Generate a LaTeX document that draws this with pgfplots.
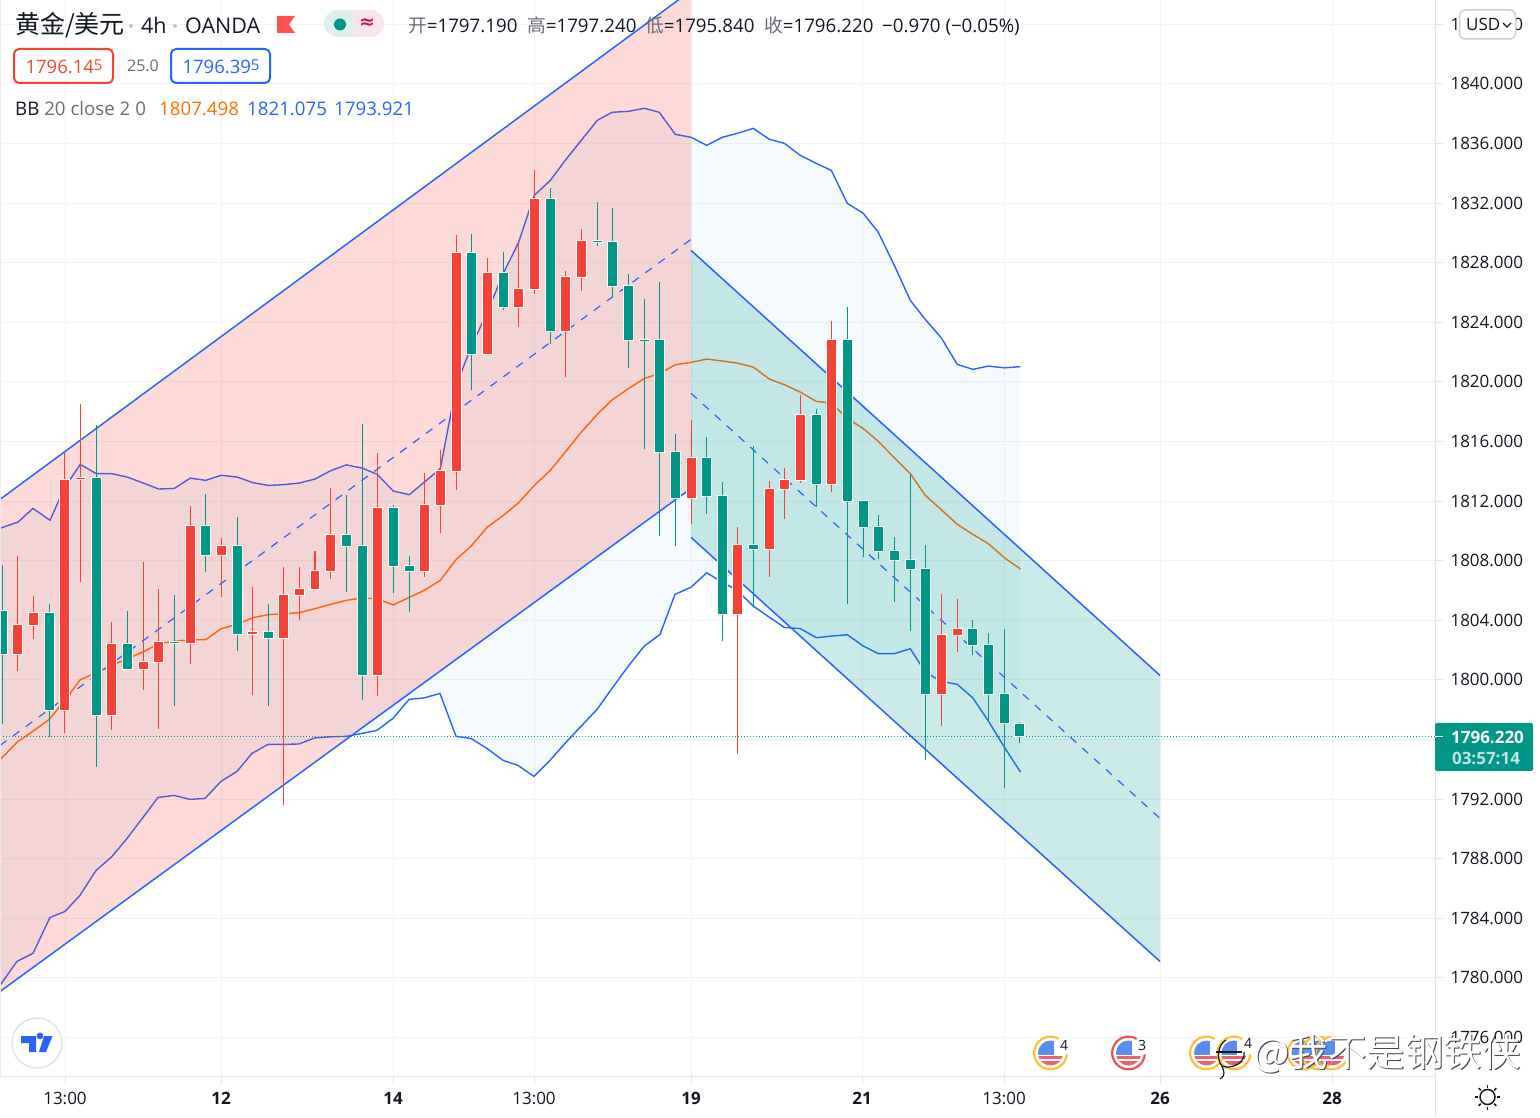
\documentclass[border=0pt]{standalone}
\usepackage{fontspec}
\usepackage{pgfplots}
\usepackage{pgfplotstable}
\pgfplotsset{compat=1.18}
\usetikzlibrary{calc}
\setmainfont{Open Sans}
\newfontfamily\cjk{Noto Sans CJK SC}
\newfontfamily\djv{DejaVu Sans}
\definecolor{up}{HTML}{F44336}
\definecolor{down}{HTML}{009688}
\definecolor{chan}{HTML}{2962FF}
\definecolor{bbblue}{HTML}{2962FF}
\definecolor{bandc}{HTML}{2196F3}
\definecolor{bborange}{HTML}{FF6D00}
\definecolor{gridc}{HTML}{F0F3FA}
\definecolor{axisc}{HTML}{E0E3EB}
\definecolor{inkc}{HTML}{131722}
\definecolor{grayc}{HTML}{6A6D78}
\definecolor{ringy}{HTML}{FFC233}
\definecolor{ringr}{HTML}{EF5350}
\definecolor{flagb}{HTML}{5B8DEF}
\definecolor{flagr}{HTML}{F0606A}
\definecolor{flagc}{HTML}{FF5252}
\definecolor{pillg}{HTML}{DDF0EC}
\definecolor{pillp}{HTML}{FCE4EC}
\definecolor{pillm}{HTML}{C2185B}

% x (chart position) high  body-top  body-bottom  low
\pgfplotstableread{
x high top bot low
17.5 1808.29 1803.68 1801.76 1800.60
33.3 1805.60 1804.48 1803.71 1802.72
64.7 1815.25 1813.41 1797.95 1796.43
80.3 1818.54 1813.54 1813.46 1806.56
111.7 1803.86 1802.40 1797.62 1796.61
143.3 1807.89 1801.20 1800.75 1799.29
158.7 1806.07 1802.54 1801.20 1796.68
190.3 1811.64 1810.32 1802.50 1801.09
221.3 1809.50 1808.98 1808.40 1805.54
252.7 1806.21 1803.21 1803.10 1798.96
283.3 1807.55 1805.69 1802.84 1791.58
299.3 1807.55 1806.09 1805.72 1803.99
315.0 1808.62 1807.30 1806.12 1806.12
330.7 1812.85 1809.72 1807.33 1806.75
377.3 1815.25 1811.53 1800.35 1798.89
424.3 1813.91 1811.76 1807.33 1806.90
440.3 1815.40 1814.01 1811.76 1809.85
456.3 1829.83 1828.64 1814.04 1812.72
487.3 1828.29 1827.30 1821.89 1821.78
518.3 1829.27 1826.23 1825.05 1823.68
534.3 1834.19 1832.27 1826.25 1825.87
565.3 1827.42 1827.03 1823.44 1820.30
581.3 1830.28 1829.45 1827.06 1826.07
691.3 1817.42 1814.89 1812.23 1810.44
737.3 1810.28 1809.05 1804.40 1795.02
769.3 1813.37 1812.81 1808.81 1806.90
784.3 1814.24 1813.41 1812.83 1810.77
800.3 1819.14 1817.77 1813.44 1813.21
831.3 1824.06 1822.79 1813.17 1812.59
941.3 1805.79 1803.01 1799.03 1796.90
957.3 1805.40 1803.41 1803.03 1801.85
}\bulltable
\pgfplotstableread{
x high top bot low
2.5 1807.69 1804.62 1801.76 1797.01
49.3 1805.07 1804.48 1797.95 1796.16
96.3 1817.08 1813.54 1797.62 1794.15
127.3 1804.60 1802.40 1800.75 1800.75
174.3 1805.67 1802.54 1802.50 1798.22
205.7 1812.45 1810.32 1808.40 1807.21
237.3 1810.91 1808.98 1803.10 1801.93
268.3 1805.07 1803.21 1802.84 1798.22
346.3 1812.38 1809.72 1809.01 1805.87
362.3 1817.19 1808.99 1800.35 1798.62
393.3 1811.71 1811.53 1807.67 1805.80
409.3 1808.29 1807.67 1807.33 1804.53
471.3 1829.90 1828.64 1821.89 1819.43
503.3 1828.69 1827.30 1825.05 1824.80
550.3 1833.03 1832.27 1823.44 1822.52
597.3 1832.05 1829.48 1829.38 1829.09
612.3 1831.64 1829.38 1826.46 1825.74
628.3 1827.26 1826.43 1822.83 1820.91
644.3 1825.54 1822.83 1822.80 1815.49
659.3 1826.73 1822.80 1815.32 1809.63
675.3 1816.52 1815.29 1812.23 1808.96
706.7 1816.28 1814.89 1812.36 1811.13
722.3 1813.30 1812.34 1804.40 1802.60
753.3 1815.67 1809.05 1808.81 1804.93
816.3 1818.15 1817.77 1813.17 1811.60
847.3 1825.00 1822.79 1812.03 1805.09
863.3 1812.03 1812.03 1810.28 1808.24
878.3 1811.04 1810.25 1808.67 1808.09
894.3 1809.56 1808.67 1808.07 1805.22
910.3 1813.79 1808.04 1807.46 1803.25
925.3 1809.03 1807.46 1799.03 1794.60
972.3 1803.99 1803.41 1802.36 1801.65
988.3 1803.12 1802.34 1799.07 1797.17
1004.3 1803.44 1799.05 1797.13 1792.74
1019.3 1797.18 1797.07 1796.22 1795.79
}\beartable
\pgfplotstableread{
x y
0 1810.17
18 1810.59
33 1811.51
50 1810.71
64.7 1812.92
80.3 1814.46
96.3 1813.84
111.7 1813.84
127.3 1813.61
143.3 1813.21
158.7 1812.81
174.3 1812.85
190.3 1813.54
205.7 1813.39
221.3 1813.73
237.3 1813.61
252.7 1813.24
268.3 1813.05
283.3 1813.10
299.3 1813.21
315 1813.48
330.7 1814.04
346.3 1814.43
362.3 1814.21
377.3 1813.79
393.3 1812.67
409.3 1812.43
424.3 1813.27
440.3 1814.17
456.3 1819.77
471.3 1822.38
487.3 1824.68
503.3 1827.28
518.3 1829.31
534.3 1832.52
550.3 1833.52
565.3 1834.87
581.3 1836.21
597.3 1837.55
612.3 1838.09
628.3 1838.15
644.3 1838.36
659.3 1838.09
675.3 1836.61
691.3 1836.41
706.7 1835.87
722.3 1836.41
737.3 1836.68
753.3 1837.01
769.3 1836.28
784.3 1836.01
800.3 1835.20
816.3 1834.66
831.3 1834.19
847.3 1831.98
863.3 1831.31
878.3 1830.03
894.3 1827.82
910.3 1825.47
925.3 1824.19
941.3 1822.95
957.3 1821.17
973 1820.84
988.3 1821.06
1004.3 1820.94
1020.5 1821.02
}\bbupper
\pgfplotstableread{
x y
0 1779.50
17 1781.11
33 1781.65
50 1784.06
65 1784.46
80 1785.54
96 1787.21
112 1788.15
127 1789.36
143 1790.77
158 1792.11
174 1792.25
190 1791.98
205 1792.05
221 1793.19
237 1793.86
252 1795.07
268 1795.67
283 1795.67
299 1795.70
315 1796.11
330 1796.18
346 1796.21
362 1796.41
377 1796.61
393 1797.42
409 1798.69
424 1798.79
440 1799.09
456 1796.21
471 1796.07
487 1795.40
503 1794.60
518 1794.26
534 1793.52
550 1794.60
565 1795.74
581 1796.88
597 1798.02
612 1799.43
628 1800.90
644 1802.25
660 1803.05
675 1805.74
691.3 1806.23
706.7 1807.19
722.3 1806.56
737.3 1806.00
753.3 1804.95
769.3 1804.21
784.3 1803.52
800.3 1803.44
816.3 1802.83
831.3 1802.94
847.3 1803.03
863.3 1802.27
878.3 1801.76
894.3 1801.76
910.3 1802.09
925.3 1800.52
941.3 1799.90
957.3 1799.70
973 1798.78
988.3 1797.24
1004.3 1795.49
1020.5 1793.81
}\bblower
\pgfplotstableread{
x y
0 1794.64
17.3 1795.83
33 1796.56
49 1797.33
64.7 1798.62
80.3 1800.01
96.3 1800.48
111.7 1800.97
127.3 1801.42
143 1801.87
158.7 1802.43
174.3 1802.59
190.3 1802.70
205.7 1802.70
221.3 1803.44
237.3 1803.73
252.7 1804.17
268.3 1804.38
283.3 1804.44
299.3 1804.51
315 1804.78
330.7 1805.07
346.3 1805.34
362.3 1805.50
377.3 1805.44
393.3 1805.03
409.3 1805.54
424.3 1806.01
440.3 1806.68
456.3 1808.09
471.3 1808.99
487.3 1810.25
503.3 1811.04
518.3 1811.87
534.3 1813.05
550.3 1814.06
565.3 1815.29
581.3 1816.63
597.3 1817.82
612.3 1818.80
628.3 1819.54
644.3 1820.23
659.3 1820.55
675.3 1821.15
691.3 1821.31
706.7 1821.53
722.3 1821.40
737.3 1821.26
753.3 1820.99
769.3 1820.19
784.3 1819.81
800.3 1819.31
816.3 1818.69
831.3 1818.58
847.3 1817.55
863.3 1816.86
878.3 1816.01
894.3 1814.91
910.3 1813.84
925.3 1812.38
941.3 1811.42
957.3 1810.44
973 1809.76
988.3 1809.14
1004.3 1808.20
1020.5 1807.44
}\bbbasis
% band outline: upper edge left to right, then lower edge right to left
\pgfplotstablesort[sort key=x, sort cmp=float >]{\bblowerrev}{\bblower}
\pgfplotstablevertcat{\bbband}{\bbupper}
\pgfplotstablevertcat{\bbband}{\bblowerrev}

\newcommand\candleseries[2]{%
  \addplot[draw=none, mark=none, forget plot, error bars/.cd, y dir=plus, y explicit, error mark=none,
    error bar style={draw=#2, line width=1.2pt}]
    table[x=x, y=low, y error plus expr=\thisrow{high}-\thisrow{low}] {#1};
  \addplot[draw=none, mark=none, forget plot, error bars/.cd, y dir=plus, y explicit, error mark=none,
    error bar style={draw=white, line width=10.6pt}]
    table[x=x, y expr=\thisrow{bot}-0.07, y error plus expr=\thisrow{top}-\thisrow{bot}+0.14] {#1};
  \addplot[draw=none, mark=none, forget plot, error bars/.cd, y dir=plus, y explicit, error mark=none,
    error bar style={draw=#2, line width=8.6pt}]
    table[x=x, y=bot, y error plus expr=\thisrow{top}-\thisrow{bot}] {#1};
}
\newcommand\earn[3]{% x, ring colour, y
  \begin{scope}
    \clip (#1,#3) circle (12.5);
    \fill[white] (#1-13,#3-13) rectangle (#1+13,#3+13);
    \fill[flagr] (#1-13,#3+3) rectangle (#1+13,#3+13);
    \fill[white] (#1-13,#3+6) rectangle (#1+13,#3+8);
    \fill[flagb] (#1-13,#3-13) rectangle (#1+3,#3+2);
  \end{scope}
  \draw[#2, line width=2.2pt] plot[samples=45, domain=5:300] ({#1+16.3*cos(\x)},{#3+16.3*sin(\x)});
}

\begin{document}
\begin{tikzpicture}
\path[use as bounding box] (0pt,-41pt) rectangle (1540pt,1076pt);
\begin{axis}[
  at={(0pt,0pt)}, anchor=south west,
  scale only axis, width=1435pt, height=1076pt,
  xmin=0, xmax=1435, ymin=1773.42, ymax=1845.63,
  axis x line*=bottom, axis y line*=right,
  axis line style={draw=axisc, line width=1pt, -},
  tick align=outside, major tick length=8pt,
  tick style={draw=axisc, line width=1pt},
  xtick={65,221,393,534,691,862,1004,1160,1332},
  xticklabels={13:00,\textbf{12},\textbf{14},13:00,\textbf{19},\textbf{21},13:00,\textbf{26},\textbf{28}},
  ytick={1776,1780,...,1844},
  grid=major, grid style={draw=gridc, line width=1pt},
  yticklabel pos=right,
  ticklabel style={font=\fontsize{17}{17}\selectfont, text=inkc},
  xticklabel style={yshift=-5pt},
  yticklabel style={xshift=4pt, /pgf/number format/.cd, fixed, fixed zerofill, precision=3, 1000 sep={}, assume math mode=true},
]
% Bollinger band
\addplot[fill=bandc, fill opacity=0.05, draw=none, forget plot] table[x=x,y=y] {\bbband} --cycle;
\addplot[bbblue, line width=1.4pt] table[x=x,y=y] {\bbupper};
\addplot[bbblue, line width=1.4pt] table[x=x,y=y] {\bblower};
\addplot[bborange, line width=1.4pt] table[x=x,y=y] {\bbbasis};
% regression channels
\addplot[fill=up, fill opacity=0.2, draw=none] coordinates {(0,1812.115)(691,1846.25)(691,1812.85)(0,1779.09)} --cycle;
\addplot[fill=down, fill opacity=0.2, draw=none] coordinates {(691,1828.825)(1160,1800.30)(1160,1781.107)(691,1809.563)} --cycle;
\addplot[chan, line width=1.5pt] coordinates {(0,1812.115)(691,1846.25)};
\addplot[chan, line width=1.5pt] coordinates {(0,1779.09)(691,1812.85)};
\addplot[chan, line width=1.2pt, dash pattern=on 8pt off 8pt] coordinates {(0,1795.60)(691,1829.56)};
\addplot[chan, line width=1.5pt] coordinates {(691,1828.825)(1160,1800.30)};
\addplot[chan, line width=1.5pt] coordinates {(691,1809.563)(1160,1781.107)};
\addplot[chan, line width=1.2pt, dash pattern=on 8pt off 8pt] coordinates {(691,1819.23)(1160,1790.705)};
% last price
\addplot[down, line width=1.3pt, dash pattern=on 1.3pt off 1.7pt] coordinates {(0,1796.22)(1435,1796.22)};
% candles
\candleseries{\bulltable}{up}
\candleseries{\beartable}{down}
\end{axis}
\begin{scope}[x=1pt,y=-1pt,shift={(0pt,1076pt)}]
% frame bits
\draw[axisc, line width=1pt] (1435,1076) -- (1435,1117);
\draw[axisc!70!white, line width=1.5pt] (0.7,0) -- (0.7,1076);
% header
\node[anchor=base west, inner sep=0, text=inkc, font=\cjk\fontsize{25}{25}\selectfont] at (15,34) {黄金/美元};
\fill[axisc!70!gray] (131,26) circle (2);
\node[anchor=base west, inner sep=0, text=inkc, font=\fontsize{21.5}{22}\selectfont] at (141,34) {4h};
\fill[axisc!70!gray] (175,26) circle (2);
\node[anchor=base west, inner sep=0, text=inkc, font=\fontsize{21.5}{22}\selectfont] at (185,34) {OANDA};
\fill[flagc] (277,16) -- (295,16) -- (289,24.5) -- (295,33) -- (277,33) -- cycle;
\begin{scope}
  \clip[rounded corners=13.5pt] (324,10) rectangle (384,37);
  \fill[pillg] (324,10) rectangle (354,37);
  \fill[pillp] (354,10) rectangle (384,37);
\end{scope}
\fill[down] (340,24.5) circle (6);
\node[inner sep=0, text=pillm, font=\djv\bfseries\fontsize{19}{19}\selectfont] at (367,24) {≈};
\newcommand\ohlc[3]{\node[anchor=base west, inner sep=0, font=\fontsize{18.7}{19}\selectfont] at (#1,32.7) {{\cjk\color{grayc}#2}\textcolor{inkc}{=#3}};}
\ohlc{408}{开}{1797.190}
\ohlc{527}{高}{1797.240}
\ohlc{645}{低}{1795.840}
\ohlc{764}{收}{1796.220}
\node[anchor=base west, inner sep=0, text=inkc, font=\fontsize{18.7}{19}\selectfont] at (882,32.7) {−0.970 (−0.05\%)};
\draw[up, fill=white, line width=2pt, rounded corners=5pt] (14,49) rectangle (113,83);
\node[inner sep=0, text=up, font=\fontsize{18.5}{19}\selectfont] at (64,66.7) {1796.14\raisebox{3.5pt}{\fontsize{15}{15}\selectfont 5}};
\node[inner sep=0, text=grayc, font=\fontsize{16}{16}\selectfont] at (143,65.5) {25.0};
\draw[chan, fill=white, line width=2pt, rounded corners=5pt] (171,49) rectangle (270,83);
\node[inner sep=0, text=chan, font=\fontsize{18.5}{19}\selectfont] at (221,66.7) {1796.39\raisebox{3.5pt}{\fontsize{15}{15}\selectfont 5}};
\node[anchor=base west, inner sep=0, font=\fontsize{18.7}{19}\selectfont] at (15,115.7) {\textcolor{inkc}{BB}\textcolor{grayc}{\ 20 close 2 0}};
\node[anchor=base west, inner sep=0, text=bborange, font=\fontsize{18.7}{19}\selectfont] at (159,115.7) {1807.498};
\node[anchor=base west, inner sep=0, text=chan, font=\fontsize{18.7}{19}\selectfont] at (247,115.7) {1821.075};
\node[anchor=base west, inner sep=0, text=chan, font=\fontsize{18.7}{19}\selectfont] at (334,115.7) {1793.921};
% USD button
\draw[axisc!80!gray, fill=white, line width=1.5pt, rounded corners=6pt] (1459.5,10) rectangle (1515.5,39);
\node[inner sep=0, anchor=west, text=inkc, font=\fontsize{17}{17}\selectfont] at (1466,24) {USD};
\draw[inkc, line width=1.3pt] (1503,23) -- (1507,27) -- (1511,23);
% price label
\fill[down, rounded corners=1.5pt] (1435,723) rectangle (1533,771);
\draw[white, line width=1pt] (1435,736.5) -- (1443,736.5);
\node[inner sep=0, text=white, font=\bfseries\fontsize{17}{17}\selectfont] at (1487.5,737) {1796.220};
\node[inner sep=0, text=white!75!down, font=\bfseries\fontsize{17}{17}\selectfont] at (1486,758) {03:57:14};
% logo
\draw[axisc, fill=white, line width=1.5pt] (37,1043) circle (25);
\fill[chan] (21,1036) -- (36,1036) -- (36,1052) -- (29,1052) -- (29,1043) -- (21,1043) -- cycle;
\fill[chan] (40,1036) circle (3.4);
\fill[chan] (44,1036) -- (52.5,1036) -- (46,1052) -- (39,1052) -- cycle;
% earnings icons
\earn{1050.5}{ringy}{1053}
\node[inner sep=0, text=inkc, font=\fontsize{14}{14}\selectfont] at (1064,1045) {4};
\earn{1128.5}{ringr}{1053}
\node[inner sep=0, text=inkc, font=\fontsize{14}{14}\selectfont] at (1142,1045) {3};
\earn{1206.5}{ringy}{1053}
\earn{1234}{ringy}{1053}
\node[inner sep=0, text=inkc, font=\fontsize{14}{14}\selectfont] at (1248,1043) {4};
\earn{1304}{ringy}{1053}
\earn{1318}{ringy}{1053}
\earn{1332}{ringy}{1053}
% watermark
\draw[inkc, line width=1.2pt] (1226,1040) .. controls (1218,1044) and (1216,1060) .. (1222,1066) .. controls (1232,1070) and (1246,1062) .. (1244,1052);
\draw[inkc, line width=1.2pt] (1216,1052) -- (1242,1052);
\draw[inkc, line width=1.2pt] (1222,1066) .. controls (1224,1072) and (1226,1075) .. (1220,1079);
\node[inner sep=0, anchor=west, text=inkc!80, font=\cjk\fontsize{38.5}{39}\selectfont] at (1254.2,1054.8) {@我不是钢铁侠};
\node[inner sep=0, anchor=west, text=white, font=\cjk\fontsize{38.5}{39}\selectfont] at (1253,1054) {@我不是钢铁侠};
% settings
\draw[inkc, line width=1.5pt] (1487.5,1097) circle (7.5);
\foreach \a in {0,45,...,315} \draw[inkc, line width=1.5pt] ($(1487.5,1097)+(\a:9.5)$) -- ($(1487.5,1097)+(\a:12.5)$);
\end{scope}
\end{tikzpicture}
\end{document}
